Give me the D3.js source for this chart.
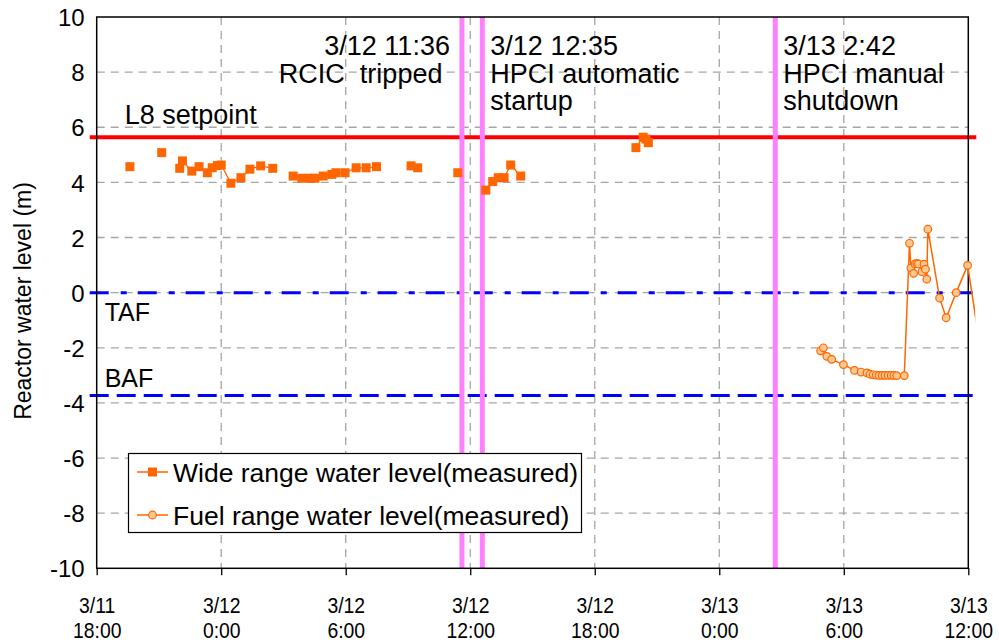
<!DOCTYPE html>
<html>
<head>
<meta charset="utf-8">
<script src="https://cdn.jsdelivr.net/npm/d3@7"></script>
<style>
  body { margin: 0; background: #fff; }
  text { font-family: "Liberation Sans", Arial, sans-serif; fill: #000; white-space: pre; }
</style>
</head>
<body>
<div id="chart"></div>
<script>
// wide range water level (measured), null = gap in the record
var wideTimes = ['3/11 19:36', null, '3/11 21:08', null,
  '3/11 22:00', '3/11 22:08', '3/11 22:35', '3/11 22:56', '3/11 23:20', '3/11 23:34', '3/11 23:49',
  '3/12 0:00', '3/12 0:28', '3/12 0:57', '3/12 1:23', '3/12 1:54', '3/12 2:29', null,
  '3/12 3:28', '3/12 3:53', '3/12 4:17', '3/12 4:31', '3/12 4:55', '3/12 5:20', '3/12 5:32',
  '3/12 5:58', '3/12 6:30', '3/12 6:59', '3/12 7:29', null,
  '3/12 9:09', '3/12 9:28', null, '3/12 11:24', null,
  '3/12 12:45', '3/12 13:05', '3/12 13:21', '3/12 13:38', '3/12 13:57', '3/12 14:26', null,
  '3/12 19:59', '3/12 20:20', '3/12 20:28', '3/12 20:35']
var wideValues = [4.57, null, 5.08, null,
  4.51, 4.78, 4.41, 4.57, 4.35, 4.53, 4.61,
  4.63, 3.97, 4.17, 4.48, 4.60, 4.51, null,
  4.23, 4.15, 4.15, 4.15, 4.23, 4.29, 4.35,
  4.35, 4.53, 4.53, 4.57, null,
  4.60, 4.53, null, 4.35, null,
  3.72, 4.03, 4.17, 4.17, 4.63, 4.23, null,
  5.26, 5.64, 5.57, 5.44]

// fuel range water level (measured)
var fuelTimes = ['3/13 4:53', '3/13 5:01', '3/13 5:11', '3/13 5:25', '3/13 5:59', '3/13 6:31', '3/13 6:50',
  '3/13 7:07', '3/13 7:16', '3/13 7:25', '3/13 7:34', '3/13 7:42', '3/13 7:51', '3/13 7:59', '3/13 8:08',
  '3/13 8:17', '3/13 8:25', '3/13 8:33', '3/13 8:55', '3/13 9:10', '3/13 9:14', '3/13 9:22', '3/13 9:26',
  '3/13 9:31', '3/13 9:36', '3/13 9:46', '3/13 9:52', '3/13 9:56', '3/13 10:00', '3/13 10:03',
  '3/13 10:37', '3/13 10:56', '3/13 11:25', '3/13 11:58', '3/13 12:30']
var fuelValues = [-2.11, -2.0, -2.31, -2.42, -2.61, -2.82, -2.88,
  -2.91, -2.96, -2.98, -2.99, -3.0, -3.0, -3.0, -3.0,
  -3.0, -3.0, -3.01, -3.01, 1.79, 0.9, 0.70, 1.04,
  1.06, 1.04, 0.76, 1.03, 0.85, 0.49, 2.3,
  -0.2, -0.91, 0.0, 0.99, -1.6]

var levelNames = ['L8 setpoint', 'TAF', 'BAF']
var levelValues = [5.64, 0, -3.73]

var eventTimes = ['3/12 11:36', '3/12 12:35', '3/13 2:42']
var eventLabels = [['3/12 11:36', 'RCIC  tripped '], ['3/12 12:35', 'HPCI automatic', 'startup'], ['3/13 2:42', 'HPCI manual', 'shutdown']]

var xTickTimes = ['3/11 18:00', '3/12 0:00', '3/12 6:00', '3/12 12:00', '3/12 18:00', '3/13 0:00', '3/13 6:00', '3/13 12:00']
var yTicks = [10, 8, 6, 4, 2, 0, -2, -4, -6, -8, -10]

var parse = d3.timeParse('%Y/%m/%d %H:%M')
function toDate (s) { return s == null ? null : parse('2011/' + s) }

var W = 999
var H = 644
var margin = { left: 96.7, top: 17, right: 30.7, bottom: 75.7 }
var iw = W - margin.left - margin.right
var ih = H - margin.top - margin.bottom

var x = d3.scaleTime().domain([toDate(xTickTimes[0]), toDate(xTickTimes[xTickTimes.length - 1])]).range([0, iw])
var y = d3.scaleLinear().domain([-10, 10]).range([ih, 0])

var svg = d3.select('#chart').append('svg')
  .attr('width', W).attr('height', H)
var g = svg.append('g')
  .attr('transform', 'translate(' + margin.left + ',' + margin.top + ')')

svg.append('defs').append('clipPath').attr('id', 'clip')
  .append('rect').attr('x', -2).attr('y', 0).attr('width', iw + 9).attr('height', ih)

// grid
g.append('g').selectAll('line').data(yTicks.slice(1, -1)).enter().append('line')
  .attr('x1', 0).attr('x2', iw)
  .attr('y1', d => y(d)).attr('y2', d => y(d))
  .attr('stroke', '#a6a6a6').attr('stroke-width', 1.3).attr('stroke-dasharray', '8,6')
g.append('g').selectAll('line').data(xTickTimes.slice(1, -1)).enter().append('line')
  .attr('x1', d => x(toDate(d))).attr('x2', d => x(toDate(d)))
  .attr('y1', 0).attr('y2', ih)
  .attr('stroke', '#a6a6a6').attr('stroke-width', 1.3).attr('stroke-dasharray', '8,6')

// axes
var xAxis = g.append('g').attr('transform', 'translate(0,' + ih + ')')
  .call(d3.axisBottom(x).tickValues(xTickTimes.map(toDate)).tickSize(7).tickFormat(''))
xAxis.select('.domain').remove()
xAxis.selectAll('line').attr('stroke', '#000').attr('stroke-width', 1.3)
xAxis.selectAll('.tick').each(function (d, i) {
  var parts = xTickTimes[i].split(' ')
  // condensed labels, like the original
  var t = d3.select(this).append('g').attr('transform', 'scale(0.88,1)')
  t.append('text').attr('text-anchor', 'middle').style('font-size', '22px')
    .attr('y', 45).text(parts[0])
  t.append('text').attr('text-anchor', 'middle').style('font-size', '22px')
    .attr('y', 70).text(parts[1])
})

var yAxis = g.append('g')
  .call(d3.axisLeft(y).tickValues(yTicks).tickSize(0).tickPadding(12).tickFormat(d => String(d)))
yAxis.select('.domain').remove()
yAxis.selectAll('text').style('font-size', '24px').attr('dy', '0.36em')

svg.append('text')
  .attr('transform', 'translate(31,301) rotate(-90)')
  .attr('text-anchor', 'middle').style('font-size', '23px')
  .text('Reactor water level (m)')

// reference levels
var levelStyles = [
  { color: '#ff0000', width: 4, dash: null },
  { color: '#0000ff', width: 3, dash: '19,12,6,11' },
  { color: '#0000ff', width: 3, dash: '19,8' }
]
levelValues.forEach(function (v, i) {
  g.append('line')
    .attr('x1', -7).attr('x2', iw + 8)
    .attr('y1', y(v)).attr('y2', y(v))
    .attr('stroke', levelStyles[i].color)
    .attr('stroke-width', levelStyles[i].width)
    .attr('stroke-dasharray', levelStyles[i].dash)
})
g.append('text').attr('x', 28).attr('y', y(levelValues[0]) - 13).style('font-size', '27px').text(levelNames[0])
g.append('text').attr('x', 8).attr('y', y(levelValues[1]) + 28).style('font-size', '25px').text(levelNames[1])
g.append('text').attr('x', 8).attr('y', y(levelValues[2]) - 8).style('font-size', '25px').text(levelNames[2])

// events
eventTimes.forEach(function (t, i) {
  var ex = x(toDate(t))
  g.append('line')
    .attr('x1', ex).attr('x2', ex).attr('y1', 0).attr('y2', ih)
    .attr('stroke', '#ff80ff').attr('stroke-width', 5)
  var right = i === 0
  var tx = g.append('text')
    .attr('text-anchor', right ? 'end' : 'start')
    .style('font-size', '27px')
  eventLabels[i].forEach(function (s, j) {
    tx.append('tspan')
      .attr('x', right ? ex - 12 : ex + 8)
      .attr('y', 38 + j * 27.5)
      .text(s)
  })
})

// frame
g.append('rect').attr('x', 0).attr('y', 0).attr('width', iw).attr('height', ih)
  .attr('fill', 'none').attr('stroke', '#000').attr('stroke-width', 1.5)

var orange = '#ff6600'
var wide = wideTimes.map((t, i) => ({ t: toDate(t), v: wideValues[i] }))
var fuel = fuelTimes.map((t, i) => ({ t: toDate(t), v: fuelValues[i] }))

var line = d3.line()
  .defined(d => d.t != null && d.v != null)
  .x(d => x(d.t)).y(d => y(d.v))

var plot = g.append('g').attr('clip-path', 'url(#clip)')
plot.append('path').datum(wide).attr('d', line)
  .attr('fill', 'none').attr('stroke', orange).attr('stroke-width', 1.3)
plot.append('path').datum(fuel).attr('d', line)
  .attr('fill', 'none').attr('stroke', orange).attr('stroke-width', 1.5)

plot.selectAll('.sq').data(wide.filter(d => d.t != null)).enter().append('rect')
  .attr('class', 'sq')
  .attr('x', d => x(d.t) - 4.5).attr('y', d => y(d.v) - 4.5)
  .attr('width', 9).attr('height', 9)
  .attr('fill', orange)
plot.selectAll('.ci').data(fuel.filter(d => x(d.t) <= iw)).enter().append('circle')
  .attr('class', 'ci')
  .attr('cx', d => x(d.t)).attr('cy', d => y(d.v)).attr('r', 3.8)
  .attr('fill', '#ffc890').attr('stroke', orange).attr('stroke-width', 1.2)

// legend
var lg = svg.append('g').attr('transform', 'translate(128.5,453.5)')
lg.append('rect').attr('width', 453).attr('height', 79)
  .attr('fill', '#fff').attr('stroke', '#000').attr('stroke-width', 1.2)
var legendNames = ['Wide range water level(measured)', 'Fuel range water level(measured)']
legendNames.forEach(function (name, i) {
  var ly = 18.5 + i * 43
  lg.append('line').attr('x1', 8.5).attr('x2', 39.5).attr('y1', ly).attr('y2', ly)
    .attr('stroke', orange).attr('stroke-width', 1.5)
  if (i === 0) {
    lg.append('rect').attr('x', 19.5).attr('y', ly - 4.5).attr('width', 9).attr('height', 9).attr('fill', orange)
  } else {
    lg.append('circle').attr('cx', 24).attr('cy', ly).attr('r', 3.8)
      .attr('fill', '#ffc890').attr('stroke', orange).attr('stroke-width', 1.2)
  }
  lg.append('text').attr('x', 44.5).attr('y', ly + 9.5).style('font-size', '26.5px').text(name)
})
</script>
</body>
</html>
